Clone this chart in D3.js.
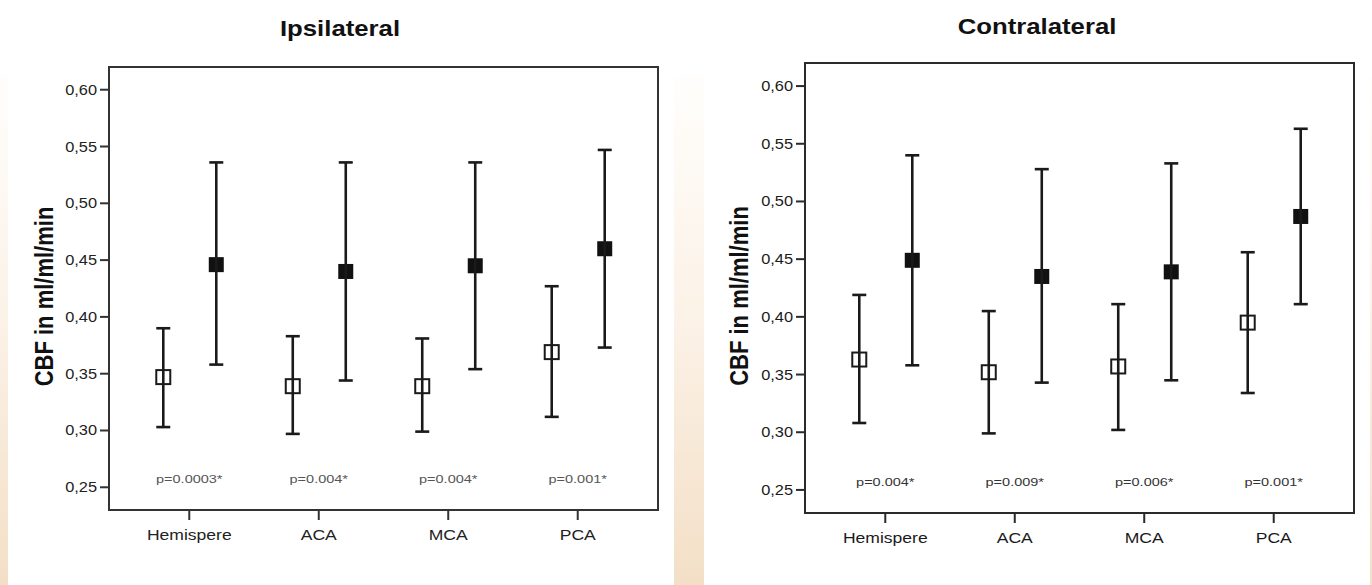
<!DOCTYPE html>
<html>
<head>
    <meta charset="utf-8">
    <title>CBF Ipsilateral / Contralateral</title>
    <script src="https://d3js.org/d3.v7.min.js"></script>
    <style>
        html, body {
            margin: 0;
            background: #fff;
            overflow: hidden;
        }
        text {
            font-family: "Liberation Sans", Arial, sans-serif;
        }
    </style>
</head>
<body>
    <svg id="svg"></svg>
    <script>
        const regions = ["Hemispere", "ACA", "MCA", "PCA"];
        const yTicks = [0.25, 0.30, 0.35, 0.40, 0.45, 0.50, 0.55, 0.60];

        // Ipsilateral (open = first group, filled = second group)
        const ipsiOpenMean = [0.347, 0.339, 0.339, 0.369];
        const ipsiOpenLow = [0.303, 0.297, 0.299, 0.312];
        const ipsiOpenHigh = [0.390, 0.383, 0.381, 0.427];
        const ipsiFilledMean = [0.446, 0.440, 0.445, 0.460];
        const ipsiFilledLow = [0.358, 0.344, 0.354, 0.373];
        const ipsiFilledHigh = [0.536, 0.536, 0.536, 0.547];
        const ipsiP = ["p=0.0003*", "p=0.004*", "p=0.004*", "p=0.001*"];

        // Contralateral
        const contraOpenMean = [0.363, 0.352, 0.357, 0.395];
        const contraOpenLow = [0.308, 0.299, 0.302, 0.334];
        const contraOpenHigh = [0.419, 0.405, 0.411, 0.456];
        const contraFilledMean = [0.449, 0.435, 0.439, 0.487];
        const contraFilledLow = [0.358, 0.343, 0.345, 0.411];
        const contraFilledHigh = [0.540, 0.528, 0.533, 0.563];
        const contraP = ["p=0.004*", "p=0.009*", "p=0.006*", "p=0.001*"];

        const width = 1372;
        const height = 585;
        const stretch = 1.17; // the source image is a bit wider than tall

        const svg = d3.select("#svg")
        .attr("width", width)
        .attr("height", height);

        // peach gradient strips of the page background
        const grad = svg.append("defs").append("linearGradient")
        .attr("id", "peach")
        .attr("gradientUnits", "userSpaceOnUse")
        .attr("x1", 0).attr("x2", 0)
        .attr("y1", 75).attr("y2", height);
        grad.append("stop").attr("offset", "0%").attr("stop-color", "#fffefc");
        grad.append("stop").attr("offset", "50%").attr("stop-color", "#fbf1e6");
        grad.append("stop").attr("offset", "100%").attr("stop-color", "#f3dfc6");

        [[0, 8], [674, 30], [1370, 2]].forEach(s => {
            svg.append("rect")
            .attr("x", s[0]).attr("y", 75)
            .attr("width", s[1]).attr("height", height - 75)
            .attr("fill", "url(#peach)");
        });

        function stretchedText(g, x, y, str, sx) {
            return g.append("text")
            .attr("transform", `translate(${x},${y}) scale(${sx},1)`)
            .text(str);
        }

        function drawPanel(p) {
            const g = svg.append("g");
            const ink = p.ink;

            const y = d3.scaleLinear()
            .domain([0.23, 0.62])
            .range([p.bottom, p.top]);

            const x = d3.scalePoint()
            .domain(regions)
            .range([p.left, p.right])
            .padding(0.62);

            // frame
            g.append("rect")
            .attr("x", p.left).attr("y", p.top)
            .attr("width", p.right - p.left).attr("height", p.bottom - p.top)
            .attr("fill", "#fff")
            .attr("stroke", p.frame)
            .attr("stroke-width", 2);

            // y axis ticks + labels
            g.selectAll(".ytick")
            .data(yTicks)
            .enter()
            .append("line")
            .attr("x1", p.left - 9).attr("x2", p.left)
            .attr("y1", d => y(d)).attr("y2", d => y(d))
            .attr("stroke", p.frame)
            .attr("stroke-width", 2);

            yTicks.forEach(t => {
                stretchedText(g, p.left - 12, y(t) + 5, d3.format(".2f")(t).replace(".", ","), stretch)
                .attr("text-anchor", "end")
                .attr("font-size", 14)
                .attr("fill", ink);
            });

            // x axis ticks + labels
            g.selectAll(".xtick")
            .data(regions)
            .enter()
            .append("line")
            .attr("x1", d => x(d)).attr("x2", d => x(d))
            .attr("y1", p.bottom).attr("y2", p.bottom + 10)
            .attr("stroke", p.frame)
            .attr("stroke-width", 2);

            regions.forEach(r => {
                stretchedText(g, x(r), p.bottom + 30, r, stretch)
                .attr("text-anchor", "middle")
                .attr("font-size", 15)
                .attr("fill", ink);
            });

            // titles
            stretchedText(g, p.titleX, p.titleY, p.title, stretch)
            .attr("text-anchor", "middle")
            .attr("font-size", 22)
            .attr("font-weight", "bold")
            .attr("fill", "#111");

            g.append("text")
            .attr("transform", `translate(${p.axisX},${(p.top + p.bottom) / 2 + 8}) scale(${stretch},1) rotate(-90)`)
            .attr("text-anchor", "middle")
            .attr("font-size", 22)
            .attr("font-weight", "bold")
            .attr("fill", "#111")
            .text("CBF in ml/ml/min");

            // p values
            regions.forEach((r, i) => {
                stretchedText(g, x(r), p.bottom - 27, p.pvals[i], 1.45)
                .attr("text-anchor", "middle")
                .attr("font-size", 10)
                .attr("fill", p.pInk);
            });

            const series = [
                {mean: p.openMean, low: p.openLow, high: p.openHigh, dx: -26, filled: false, size: 14},
                {mean: p.filledMean, low: p.filledLow, high: p.filledHigh, dx: 27, filled: true, size: 15}
            ];

            series.forEach(s => {
                const pts = regions.map((r, i) => ({
                    cx: x(r) + s.dx,
                    mean: s.mean[i],
                    low: s.low[i],
                    high: s.high[i]
                }));

                // markers
                g.selectAll(null)
                .data(pts)
                .enter()
                .append("rect")
                .attr("x", d => d.cx - s.size / 2)
                .attr("y", d => y(d.mean) - s.size / 2)
                .attr("width", s.size)
                .attr("height", s.size)
                .attr("fill", s.filled ? "#111" : "none")
                .attr("stroke", "#1a1a1a")
                .attr("stroke-width", s.filled ? 0 : 2);

                // error bars
                g.selectAll(null)
                .data(pts)
                .enter()
                .append("line")
                .attr("x1", d => d.cx).attr("x2", d => d.cx)
                .attr("y1", d => y(d.low)).attr("y2", d => y(d.high))
                .attr("stroke", "#1a1a1a")
                .attr("stroke-width", 2.6);

                ["low", "high"].forEach(k => {
                    g.selectAll(null)
                    .data(pts)
                    .enter()
                    .append("line")
                    .attr("x1", d => d.cx - 7).attr("x2", d => d.cx + 7)
                    .attr("y1", d => y(d[k])).attr("y2", d => y(d[k]))
                    .attr("stroke", "#1a1a1a")
                    .attr("stroke-width", 2.6);
                });
            });
        }

        drawPanel({
            title: "Ipsilateral", titleX: 340, titleY: 36,
            left: 109, right: 658, top: 67, bottom: 510,
            axisX: 53, ink: "#222", pInk: "#555", frame: "#333",
            openMean: ipsiOpenMean, openLow: ipsiOpenLow, openHigh: ipsiOpenHigh,
            filledMean: ipsiFilledMean, filledLow: ipsiFilledLow, filledHigh: ipsiFilledHigh,
            pvals: ipsiP
        });

        drawPanel({
            title: "Contralateral", titleX: 1037, titleY: 34,
            left: 805, right: 1354, top: 63, bottom: 513,
            axisX: 748, ink: "#1a1a1a", pInk: "#333", frame: "#2a2a2a",
            openMean: contraOpenMean, openLow: contraOpenLow, openHigh: contraOpenHigh,
            filledMean: contraFilledMean, filledLow: contraFilledLow, filledHigh: contraFilledHigh,
            pvals: contraP
        });
    </script>
</body>
</html>
